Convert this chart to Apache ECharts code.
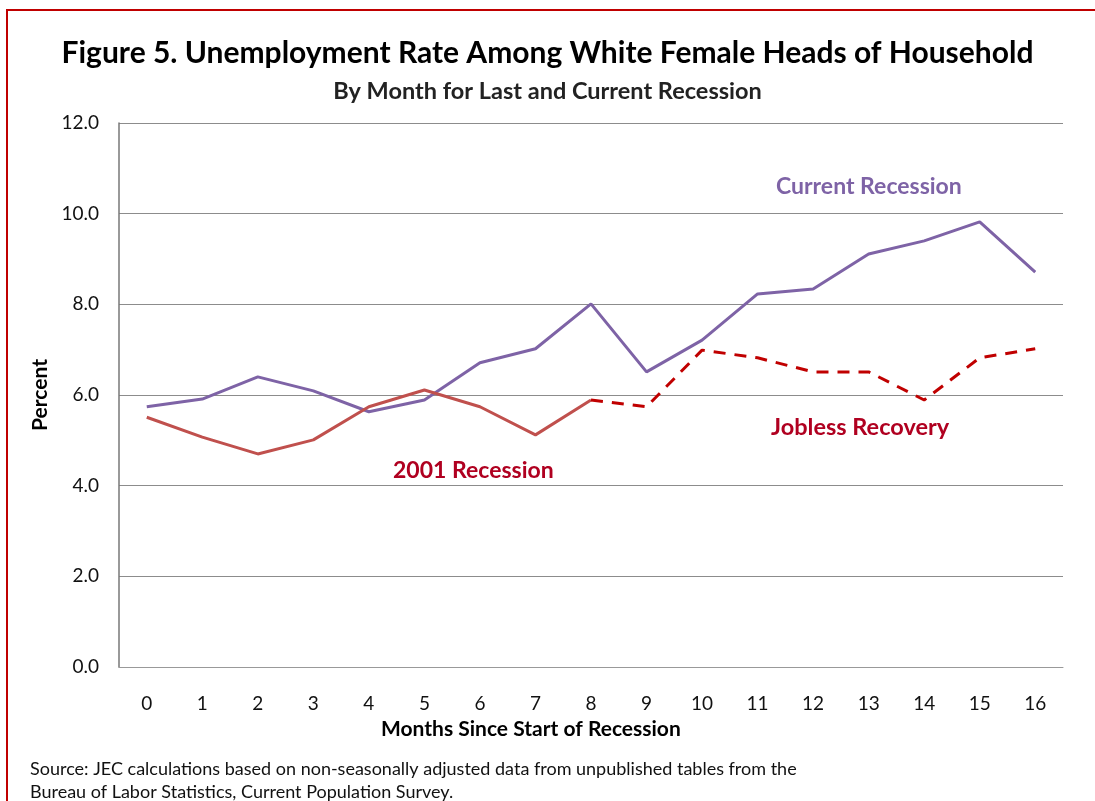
<!DOCTYPE html>
<html>
<head>
<meta charset="utf-8">
<script src="https://cdn.jsdelivr.net/npm/echarts@6/dist/echarts.min.js"></script>
<style>
  html, body { margin: 0; padding: 0; background: #fff; }
  #main { width: 1095px; height: 801px; }
</style>
</head>
<body>
<div id="main"></div>
<script>
// months since start of recession
var months = ['0', '1', '2', '3', '4', '5', '6', '7', '8', '9', '10', '11', '12', '13', '14', '15', '16'];

// current recession
var currentRecession = [5.74, 5.91, 6.40, 6.09, 5.63, 5.89, 6.71, 7.02, 8.01, 6.51, 7.21, 8.23, 8.34, 9.11, 9.40, 9.82, 8.71];

// 2001 recession (months 0-8)
var recession2001 = [5.51, 5.07, 4.70, 5.01, 5.74, 6.11, 5.74, 5.12, 5.89, null, null, null, null, null, null, null, null];

// jobless recovery (months 8-16)
var joblessRecovery = [null, null, null, null, null, null, null, null, 5.89, 5.74, 6.99, 6.82, 6.51, 6.51, 5.89, 6.82, 7.02];

var yTicks = [0, 2, 4, 6, 8, 10, 12];

var font = 'Lato, "Open Sans", sans-serif';

var chart = echarts.init(document.getElementById('main'));

var option = {
    backgroundColor: '#fff',
    animation: false,
    title: [{
        text: 'Figure 5. Unemployment Rate Among White Female Heads of Household',
        left: 'center',
        top: 33,
        textStyle: { fontFamily: font, fontSize: 30, fontWeight: 'bold', color: '#000' }
    }, {
        text: 'By Month for Last and Current Recession',
        left: 'center',
        top: 74,
        textStyle: { fontFamily: font, fontSize: 23.5, fontWeight: 'bold', color: '#222' }
    }],
    grid: { left: 119, right: 32, top: 123, bottom: 134 },
    xAxis: {
        type: 'category',
        data: months,
        boundaryGap: true,
        axisLine: { lineStyle: { color: '#999', width: 1 } },
        axisTick: { show: false },
        axisLabel: { fontFamily: font, fontSize: 19, color: '#111', margin: 27 }
    },
    yAxis: {
        type: 'value',
        min: yTicks[0],
        max: yTicks[yTicks.length - 1],
        interval: 2,
        axisLine: { show: true, lineStyle: { color: '#777', width: 1.5 } },
        axisTick: { show: false },
        splitLine: { lineStyle: { color: '#8c8c8c', width: 1 } },
        axisLabel: {
            fontFamily: font, fontSize: 19, color: '#111', margin: 20,
            formatter: function (v) { return v.toFixed(1); }
        },
        name: 'Percent',
        nameLocation: 'middle',
        nameGap: 65,
        nameTextStyle: { fontFamily: font, fontSize: 21, fontWeight: 'bold', color: '#000' }
    },
    series: [{
        name: 'Current Recession',
        type: 'line',
        data: currentRecession,
        symbol: 'none',
        lineStyle: { color: '#7E63A6', width: 3 }
    }, {
        name: '2001 Recession',
        type: 'line',
        data: recession2001,
        symbol: 'none',
        lineStyle: { color: '#C0504D', width: 3 }
    }, {
        name: 'Jobless Recovery',
        type: 'line',
        data: joblessRecovery,
        symbol: 'none',
        lineStyle: { color: '#C00000', width: 3, type: [12, 9] }
    }],
    graphic: [{
        type: 'rect',
        shape: { x: 7, y: 10, width: 1200, height: 900 },
        style: { fill: 'none', stroke: '#C00000', lineWidth: 2 },
        silent: true
    }, {
        // x axis title sits left of the plot centre in the original
        type: 'text', left: 381, top: 719,
        style: { text: 'Months Since Start of Recession', fill: '#000', font: 'bold 21px ' + font }
    }, {
        type: 'text', left: 776, top: 175,
        style: { text: 'Current Recession', fill: '#7E63A6', font: 'bold 23px ' + font }
    }, {
        type: 'text', left: 771, top: 415,
        style: { text: 'Jobless Recovery', fill: '#B00020', font: 'bold 23.5px ' + font }
    }, {
        type: 'text', left: 393, top: 459,
        style: { text: '2001 Recession', fill: '#B00020', font: 'bold 23px ' + font }
    }, {
        type: 'text', left: 30, top: 760,
        style: { text: 'Source: JEC calculations based on non-seasonally adjusted data from unpublished tables from the', fill: '#111', font: '18px ' + font }
    }, {
        type: 'text', left: 30, top: 783,
        style: { text: 'Bureau of Labor Statistics, Current Population Survey.', fill: '#111', font: '18px ' + font }
    }]
};

chart.setOption(option);
</script>
</body>
</html>
